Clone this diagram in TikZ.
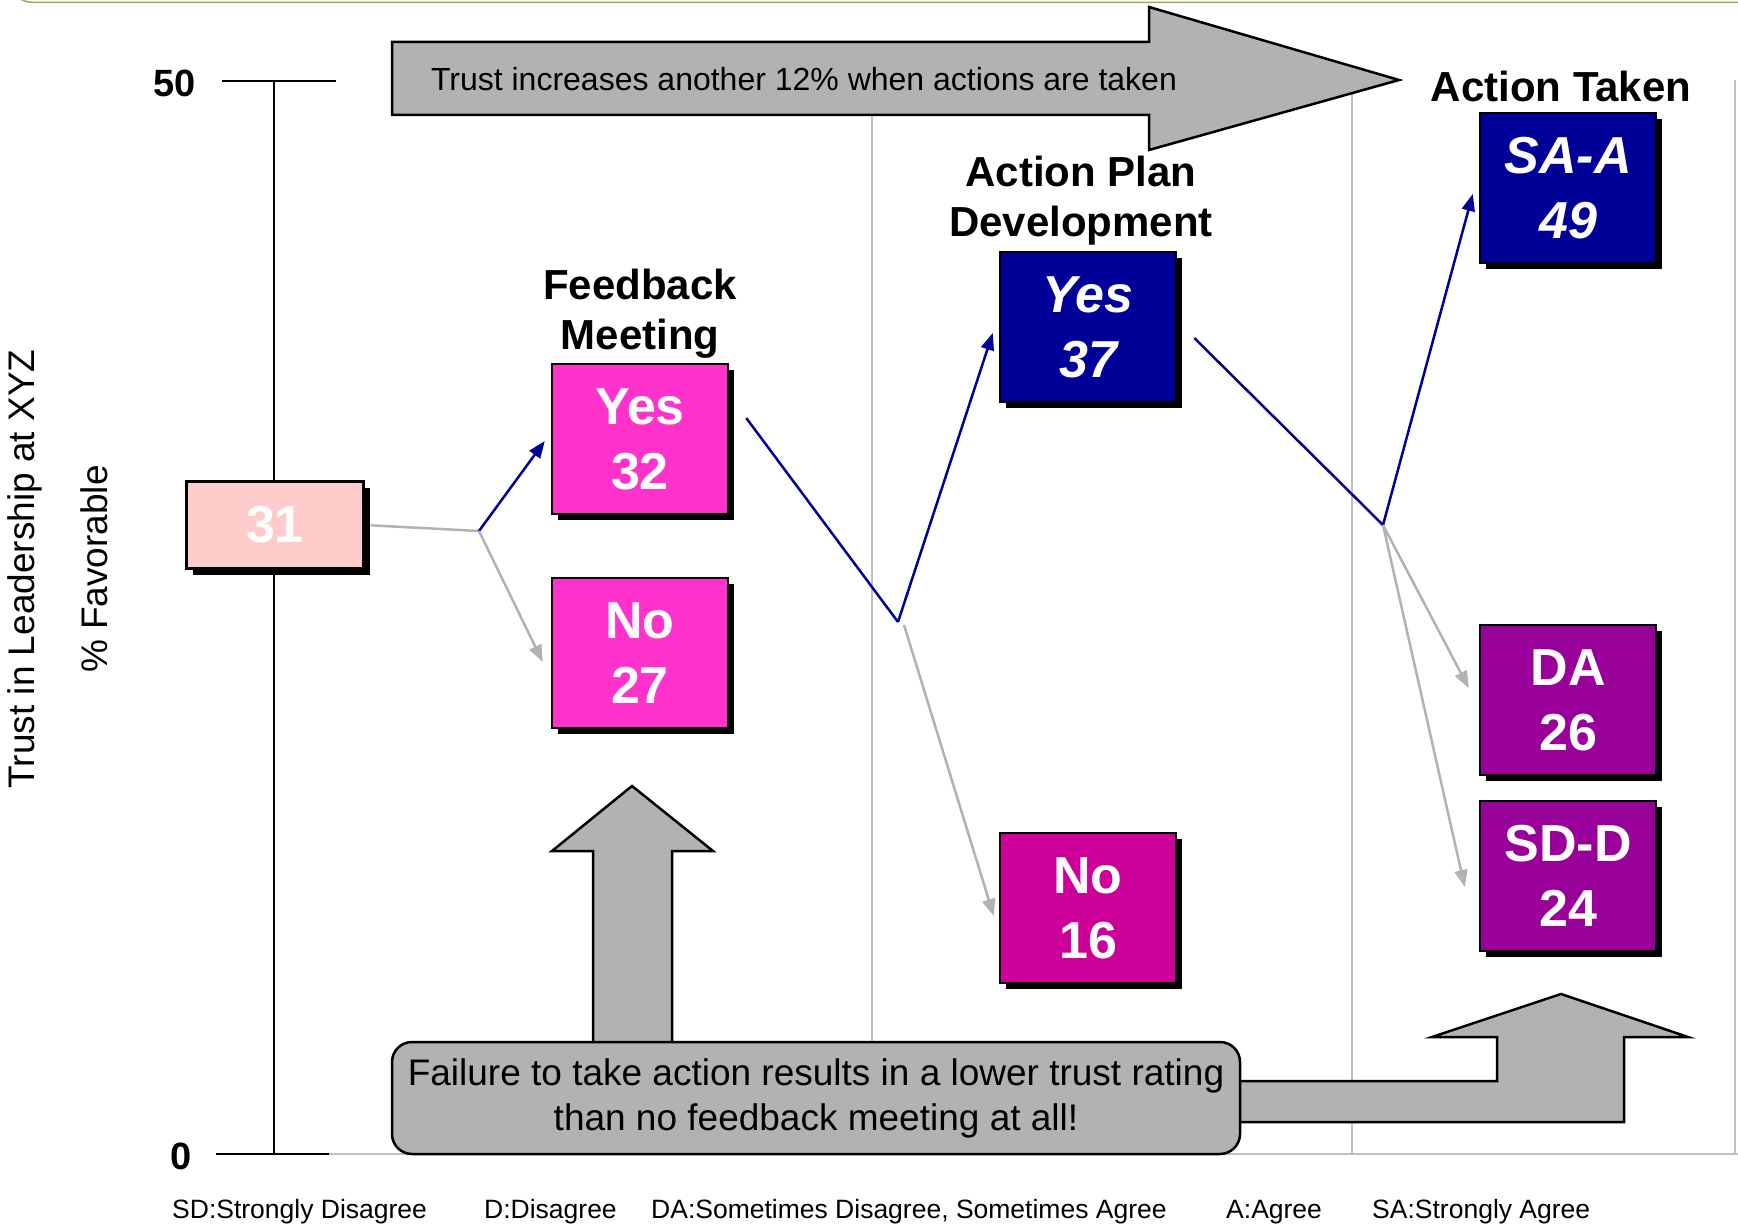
\documentclass[tikz,border=0pt]{standalone}
\usepackage{fontspec}
\setmainfont{Liberation Sans}
\usetikzlibrary{arrows.meta,shadows}

\definecolor{navy}{HTML}{000099}
\definecolor{hotpink}{HTML}{FF33CC}
\definecolor{deeppink}{HTML}{CC0099}
\definecolor{plum}{HTML}{990099}
\definecolor{blush}{HTML}{FFCCCC}
\definecolor{midgray}{HTML}{B2B2B2}
\definecolor{rulegray}{HTML}{C0C0C0}
\definecolor{framegreen}{HTML}{8DB255}

\begin{document}
\begin{tikzpicture}[
    x=1pt, y=-1pt,
    every node/.style={font=\fontsize{52}{65}\selectfont\bfseries, text=white, align=center},
    resultbox/.style={draw=black, line width=2.5pt, minimum width=176pt, minimum height=150pt,
        inner sep=0pt, general shadow={fill=black, shadow xshift=6pt, shadow yshift=-6pt}},
    stagetitle/.style={font=\fontsize{42}{50}\selectfont\bfseries, text=black},
    yesline/.style={draw=navy, line width=2.5pt},
    noline/.style={draw=midgray, line width=2.5pt},
    arrowed/.style={-{Triangle[length=17pt,width=13pt]}},
    grayshape/.style={fill=midgray, draw=black, line width=2.5pt},
    keytext/.style={font=\fontsize{26.5}{30}\selectfont, text=black, anchor=west, inner sep=0pt},
  ]
  \useasboundingbox (0,0) rectangle (1738,1225);

  % frame edge and grid
  \draw[framegreen, line width=1.5pt] (16,-8) .. controls (20,2) and (26,2.5) .. (42,2.5) -- (1738,2.5);
  \foreach \gx in {872,1352,1735}
    \draw[rulegray, line width=2pt] (\gx,80) -- (\gx,1154);
  \draw[rulegray, line width=2pt] (329,1154) -- (1738,1154);

  % axis
  \draw[line width=2.2pt] (222,81) -- (336,81);
  \draw[line width=2.2pt] (274,81) -- (274,1154);
  \draw[line width=2.2pt] (216,1154) -- (329,1154);
  \node[font=\fontsize{38}{44}\selectfont\bfseries, text=black] (top50) at (175,83) {50};
  \node[font=\fontsize{38}{44}\selectfont\bfseries, text=black] (zero) at (181,1156) {0};
  \node[rotate=90, font=\fontsize{37}{44}\selectfont, text=black] (ytitle) at (25,569) {Trust in Leadership at XYZ};
  \node[rotate=90, font=\fontsize{37}{44}\selectfont, text=black] (yunit) at (94,569) {\% Favorable};

  % big arrows
  \draw[grayshape] (392,42) -- (1149,42) -- (1149,7) -- (1399,80) -- (1149,150) -- (1149,115) -- (392,115) -- cycle;
  \node[font=\fontsize{32}{38}\selectfont, text=black] (gain) at (804,79) {Trust increases another 12\% when actions are taken};
  \draw[grayshape] (593,1060) -- (593,851) -- (552,851) -- (632,786) -- (713,851) -- (672,851) -- (672,1060) -- cycle;
  \draw[grayshape] (1230,1081) -- (1497,1081) -- (1497,1037) -- (1432,1037) -- (1561,994) -- (1688,1037)
    -- (1624,1037) -- (1624,1122) -- (1230,1122) -- cycle;
  \node[grayshape, rounded corners=20pt, minimum width=848pt, minimum height=112pt,
    font=\fontsize{37}{45}\selectfont, text=black] (failnote) at (816,1098)
    {Failure to take action results in a lower trust rating\\than no feedback meeting at all!};

  % stages
  \node[stagetitle] (fbtitle) at (640,314) {Feedback\\Meeting};
  \node[stagetitle] (aptitle) at (1081,201) {Action Plan\\Development};
  \node[stagetitle] (attitle) at (1561,86) {Action Taken};

  \node[resultbox, fill=blush, minimum width=177pt, minimum height=87pt] (start) at (275,525) {31};
  \node[resultbox, fill=hotpink] (fbyes) at (640,439) {Yes\\32};
  \node[resultbox, fill=hotpink] (fbno) at (640,653) {No\\27};
  \node[resultbox, fill=navy] (apyes) at (1088,327) {\itshape Yes\\\itshape 37};
  \node[resultbox, fill=deeppink] (apno) at (1088,908) {No\\16};
  \node[resultbox, fill=navy] (atsa) at (1568,188) {\itshape SA-A\\\itshape 49};
  \node[resultbox, fill=plum] (atda) at (1568,700) {DA\\26};
  \node[resultbox, fill=plum] (atsd) at (1568,876) {SD-D\\24};

  % paths
  \coordinate (j1) at (479,531);
  \coordinate (j2) at (898,622);
  \coordinate (j3) at (1383,525);
  \draw[noline, shorten <=6pt] (start.east) -- (j1);
  \draw[yesline, arrowed] (j1) -- ([shift={(-6,2)}]fbyes.west);
  \draw[noline, arrowed] (j1) -- ([shift={(-8,9)}]fbno.west);
  \draw[yesline] ([shift={(17,-21)}]fbyes.east) -- (j2);
  \draw[yesline, arrowed] (j2) -- ([shift={(-6,6)}]apyes.west);
  \draw[noline, arrowed] ([shift={(6,3)}]j2) -- ([shift={(-5,8)}]apno.west);
  \draw[yesline] ([shift={(17,11)}]apyes.east) -- (j3);
  \draw[yesline, arrowed] (j3) -- ([shift={(-6,6)}]atsa.west);
  \draw[noline, arrowed] (j3) -- ([shift={(-10,-12)}]atda.west);
  \draw[noline, arrowed] (j3) -- ([shift={(-14,11)}]atsd.west);

  % key
  \foreach \lx/\ltext in {172/SD:Strongly Disagree, 484/D:Disagree,
      651/{DA:Sometimes Disagree, Sometimes Agree}, 1226/A:Agree, 1372/SA:Strongly Agree}
    \node[keytext] (key\lx) at (\lx,1212) {\ltext};
\end{tikzpicture}
\end{document}
